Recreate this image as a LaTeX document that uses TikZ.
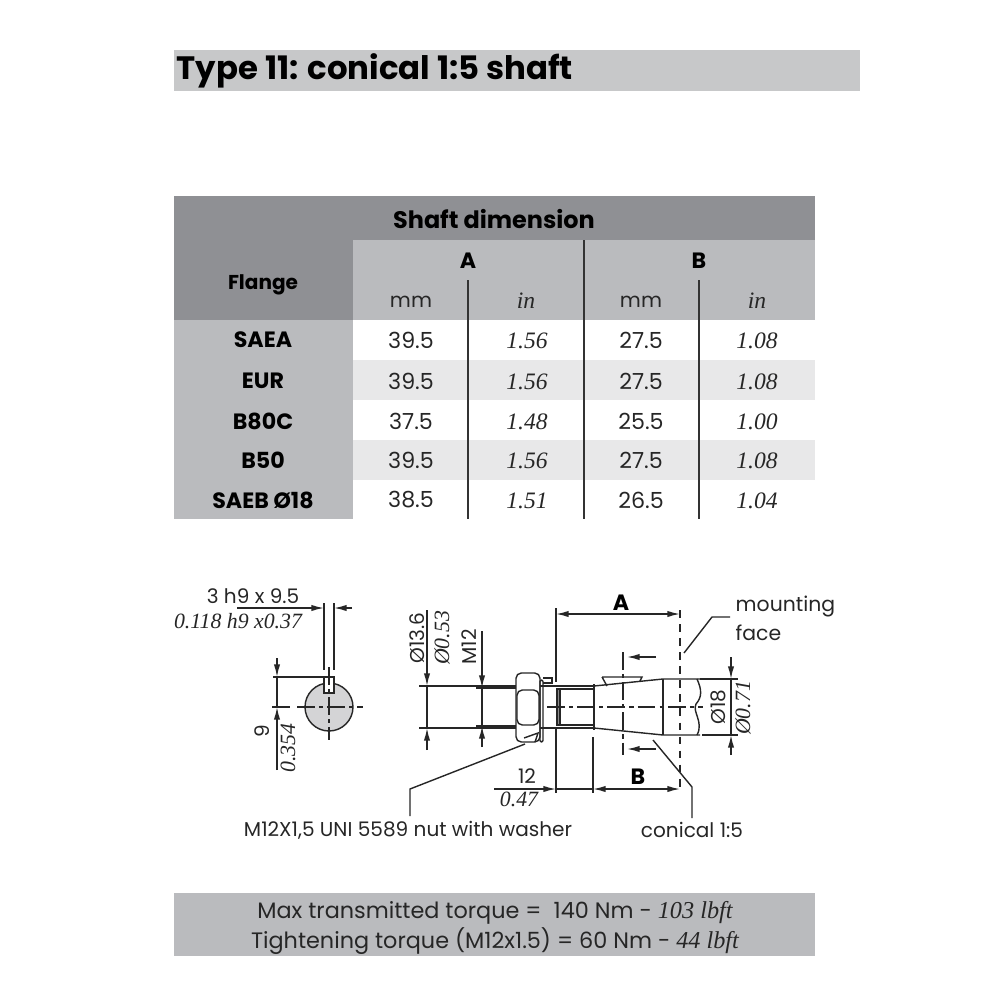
\documentclass[tikz,border=0pt]{standalone}
\usepackage{fontspec}
\setmainfont{Poppins}
\newfontfamily\inchfont{Liberation Serif}
\usetikzlibrary{arrows.meta}
\definecolor{barlight}{rgb}{0.78,0.785,0.79}
\definecolor{cellmid}{rgb}{0.73,0.735,0.745}
\definecolor{celldark}{rgb}{0.56,0.565,0.58}
\definecolor{cellrow}{rgb}{0.91,0.91,0.915}
\definecolor{hubgrey}{rgb}{0.83,0.83,0.84}
\tikzset{
	>={Latex[length=3.6pt,width=1.8pt]},
	hd/.style={font=\fontsize{6.3}{7}\selectfont\bfseries,text=black},
	mm/.style={font=\fontsize{6.3}{7}\selectfont,text=black!85},
	inch/.style={font=\fontsize{6.7}{8}\selectfont\inchfont\itshape,text=black!85},
	lab/.style={font=\fontsize{5.7}{6}\selectfont,text=black!85},
	labin/.style={font=\fontsize{6.2}{7}\selectfont\inchfont\itshape,text=black!85},
	dim/.style={line width=0.4pt,black!85,->},
	ln/.style={line width=0.4pt,black!85},
	cent/.style={line width=0.3pt,black!85,dash pattern=on 5pt off 1.2pt on 1.2pt off 1.2pt}
}
\begin{document}
\begin{tikzpicture}[x=0.01cm,y=-0.01cm]
		\useasboundingbox (0,0) rectangle (1000,1000);
		
		% title and table background
		\fill[barlight] (174,50) rectangle (860,91);
		\node[anchor=west,inner sep=0pt,font=\fontsize{9.2}{10}\selectfont\bfseries] (title) at (176,71) {Type 11: conical 1:5 shaft};
		\fill[celldark] (174,196) rectangle (815,320);
		\fill[cellmid] (353,240) rectangle (815,320);
		\fill[cellmid] (174,320) rectangle (353,519);
		\foreach \y in {360,440}
		\fill[cellrow] (353,\y) rectangle (815,\y+40);
		\foreach \x/\t in {468/280,584/240,699/280}
		\draw[line width=0.4pt,black!80] (\x,\t) -- (\x,519);
		
		\node[hd,font=\fontsize{6.8}{7}\selectfont\bfseries] (shaftdim) at (494,219) {Shaft dimension};
		\node[hd,font=\fontsize{5.7}{7}\selectfont\bfseries] (flange) at (263,285) {Flange};
		\node[hd] (heada) at (468,261) {A};
		\node[hd] (headb) at (699,261) {B};
		\foreach \x/\n in {411/ua,641/uc}
		\node[mm,font=\fontsize{5.8}{7}\selectfont] (\n) at (\x,302) {mm};
		\foreach \x/\n in {526/ub,757/ud}
		\node[inch] (\n) at (\x,301) {in};
		
		\foreach \y/\f/\a/\b/\c/\d/\n in {
			340/SAEA/39.5/1.56/27.5/1.08/r1,
			381/EUR/39.5/1.56/27.5/1.08/r2,
			421/B80C/37.5/1.48/25.5/1.00/r3,
			460/B50/39.5/1.56/27.5/1.08/r4,
			500/SAEB Ø18/38.5/1.51/26.5/1.04/r5}
		{
			\node[hd] (\n f) at (263,\y) {\f};
			\node[mm] (\n a) at (411,\y) {\a};
			\node[inch] (\n b) at (527,\y+1) {\b};
			\node[mm] (\n c) at (641,\y) {\c};
			\node[inch] (\n d) at (757,\y+1) {\d};
		}
		
		% key section
		\draw[ln,fill=hubgrey] (329,707) circle (24);
		\draw[ln,fill=white] (324,693) rectangle (334,677);
		\draw[cent] (297,707) -- (363,707);
		\draw[cent] (329,667) -- (329,740);
		\draw[ln] (324,603) -- (324,670);
		\draw[ln] (334,603) -- (334,670);
		\draw[dim] (237,608) -- (324,608);
		\draw[dim] (352,608) -- (334,608);
		\draw[ln] (273,677) -- (324,677);
		\draw[ln] (272,707) -- (290,707);
		\draw[dim] (277,658) -- (277,677);
		\draw[ln] (277,677) -- (277,707);
		\draw[dim] (277,770) -- (277,707);
		\node[lab] (keymm) at (253,596) {3 h9 x 9.5};
		\node[labin] (keyin) at (238,621) {0.118 h9 x0.37};
		\node[lab,rotate=90] (depthmm) at (262,731) {9};
		\node[labin,rotate=90] (depthin) at (288,748) {0.354};
		
		% shaft side view
		\draw[ln,rounded corners=1.5pt] (516,673) rectangle (540,742);
		\draw[ln,rounded corners=1.5pt] (517,690) rectangle (539,725);
		\draw[ln,rounded corners=0.4pt] (540,680) rectangle (543,742);
		\draw[ln] (543,678) -- (552,678) -- (552,683) -- (543,683);
		\draw[ln] (524,738) -- (538,733) -- (535,742);
		\draw[ln] (419,686) -- (516,686) (419,728) -- (516,728);
		\draw[ln] (476,688) -- (516,688) (476,726) -- (516,726);
		\draw[ln] (540,686) -- (594,686) (540,728) -- (594,728);
		\fill[black!45] (557,689) rectangle (560,725);
		\draw[ln] (557,689) rectangle (594,725);
		\draw[ln] (560,689) -- (560,725);
		\draw[ln] (594,686) -- (663,679) -- (700,679);
		\draw[ln] (594,728) -- (663,735) -- (700,735);
		\draw[ln] (594,684) -- (594,730);
		\draw[ln] (663,679) -- (663,735);
		\draw[ln] (697,679) .. controls (702,690) and (702,697) .. (696,704) .. controls (692,712) and (704,722) .. (697,735);
		\draw[ln] (602,677) -- (642,677) -- (640,681) (602,677) -- (607,686);
		\draw[cent] (547,707) -- (703,707);
		
		% dimensions of the side view
		\draw[dim] (427,610) -- (427,686);
		\draw[dim] (427,750) -- (427,728);
		\draw[ln] (427,686) -- (427,728);
		\draw[dim] (482,631) -- (482,688);
		\draw[dim] (482,747) -- (482,726);
		\draw[ln] (482,688) -- (482,726);
		\node[lab,rotate=90] (boremm) at (417,638) {Ø13.6};
		\node[labin,rotate=90] (borein) at (442,638) {Ø0.53};
		\node[lab,rotate=90] (thread) at (469,647) {M12};
		\draw[ln] (556,608) -- (556,682) (556,728) -- (556,793);
		\draw[ln] (593,737) -- (593,793);
		\draw[ln,dash pattern=on 2.2pt off 1.8pt] (680,610) -- (680,792);
		\draw[ln,<->] (556,614) -- (680,614);
		\draw[dim] (494,789) -- (556,789);
		\draw[ln] (556,789) -- (593,789);
		\draw[ln,<->] (593,789) -- (680,789);
		\node[hd] (dima) at (621,603) {A};
		\node[hd] (dimb) at (638,777) {B};
		\node[lab] (lenmm) at (527,776) {12};
		\node[labin] (lenin) at (519,799) {0.47};
		\draw[cent] (623,652) -- (623,755);
		\draw[dim] (656,657) -- (627,657);
		\draw[dim] (656,749) -- (627,749);
		\draw[ln] (700,679) -- (738,679) (702,735) -- (738,735);
		\draw[dim] (731,657) -- (731,679);
		\draw[dim] (731,755) -- (731,735);
		\draw[ln] (731,679) -- (731,735);
		\node[lab,rotate=90] (dmm) at (718,707) {Ø18};
		\node[labin,rotate=90] (din) at (743,708) {Ø0.71};
		
		% leaders and their labels
		\node[font=\fontsize{5.8}{7}\selectfont,anchor=west,inner sep=0pt,text=black!85] (mount) at (735,606) {mounting};
		\node[font=\fontsize{5.8}{7}\selectfont,anchor=west,inner sep=0pt,text=black!85] (face) at (735,633) {face};
		\node[lab] (nut) at (408,830) {M12X1,5 UNI 5589 nut with washer};
		\node[lab] (cone) at (692,830) {conical 1:5};
		\coordinate (mountend) at (684,653);
		\coordinate (nutend) at (525,744);
		\coordinate (coneend) at (653,740);
		\draw[ln] (mountend) -- (712,617) -- (730,617);
		\draw[ln] (nutend) -- (410,789) -- (410,816);
		\draw[ln] (coneend) -- (692,787) -- (692,818);
		
		% torque box
		\fill[cellmid] (174,893) rectangle (815,956);
		\node[font=\fontsize{6.35}{7}\selectfont,text=black!85] (maxtq) at (495,913) {Max transmitted torque =\; 140 Nm - {\inchfont\itshape\fontsize{6.9}{7}\selectfont 103 lbft}};
		\node[font=\fontsize{6.35}{7}\selectfont,text=black!85] (tighttq) at (495,941) {Tightening torque (M12x1.5) = 60 Nm - {\inchfont\itshape\fontsize{6.9}{7}\selectfont 44 lbft}};
		
\end{tikzpicture}
\end{document}
